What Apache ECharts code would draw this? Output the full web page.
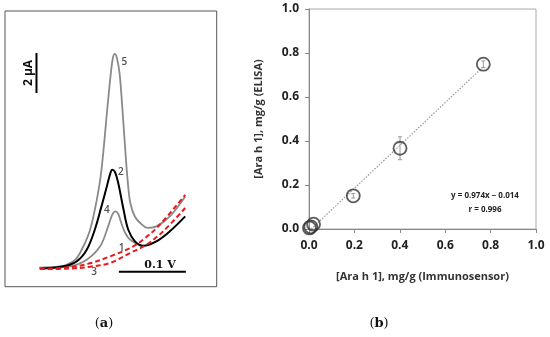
<!DOCTYPE html>
<html><head><meta charset="utf-8">
<script src="https://cdn.jsdelivr.net/npm/echarts@6/dist/echarts.min.js"></script>
<style>html,body{margin:0;padding:0;background:#fff}#c{width:550px;height:337px}</style>
</head><body><div id="c"></div>
<script>
// Panel (a): voltammograms, potential (V) vs current (µA)
const curve5 = [[0.001,0],[0.030,0.05],[0.042,0.15],[0.055,0.4],[0.066,1.0],[0.077,1.9],[0.087,3.4],[0.094,4.9],[0.103,8.07],[0.108,9.74],[0.111,10.5],[0.114,10.7],[0.117,10.5],[0.121,9.74],[0.125,8.07],[0.129,6.15],[0.133,4.4],[0.137,3.25],[0.144,2.55],[0.153,2.2],[0.163,1.99],[0.176,2.07],[0.196,2.57],[0.219,3.57]];
const curve2 = [[0.002,-0.05],[0.037,0.07],[0.057,0.32],[0.072,0.9],[0.084,1.9],[0.094,3.07],[0.102,4.07],[0.107,4.7],[0.110,4.9],[0.114,4.8],[0.119,4.24],[0.127,2.9],[0.134,1.9],[0.144,1.32],[0.156,1.1],[0.176,1.32],[0.196,1.82],[0.219,2.57]];
const curve4 = [[0.002,-0.02],[0.047,0.07],[0.072,0.4],[0.092,1.07],[0.104,2.07],[0.110,2.65],[0.115,2.82],[0.119,2.7],[0.124,2.2],[0.130,1.7],[0.137,1.4],[0.151,1.12],[0.158,1.08]];
const curve1 = [[0.002,-0.07],[0.047,0.03],[0.077,0.22],[0.107,0.57],[0.137,0.99],[0.156,1.4],[0.181,2.15],[0.219,3.65]];
const curve3 = [[0.002,-0.07],[0.047,-0.04],[0.077,0.05],[0.107,0.24],[0.137,0.74],[0.161,1.15],[0.186,1.82],[0.219,2.99]];
const curveLabels = [["5",0.128,10.3],["2",0.123,4.8],["4",0.102,2.9],["1",0.124,0.99],["3",0.083,-0.24]];
const vBar = [[0.12,-0.2],[0.22,-0.2]];      // 0.1 V scale bar
const iBar = [[-0.003,8.75],[-0.003,10.75]]; // 2 µA scale bar

// Panel (b): immunosensor vs ELISA
const sensorX = [0.002,0.008,0.02,0.195,0.401,0.768];
const elisaY  = [0.005,0.01,0.022,0.151,0.367,0.749];
const elisaErr= [0,0,0,0.01,0.052,0.015];
const fitLine = [[0.01,0.0],[0.765,0.735]];

const chart = echarts.init(document.getElementById('c'));
const boldSans = '"Open Sans", "Liberation Sans", sans-serif';
function lineS(data, color, width, type, z){
  return {type:'line', xAxisIndex:0, yAxisIndex:0, data:data, smooth:0.35, showSymbol:false, symbol:'none',
    lineStyle:{color:color, width:width, type:type}, z:z, silent:true};
}
chart.setOption({
  animation:false,
  grid:[
    {left:5, top:11, right:333.3, bottom:50.3, show:true, borderColor:'#555', borderWidth:1, backgroundColor:'transparent'},
    {left:309, top:9, right:14, bottom:108, show:true, borderColor:'#aaa', borderWidth:1}
  ],
  xAxis:[
    {gridIndex:0, type:'value', min:-0.05, max:0.266, show:false},
    {gridIndex:1, type:'value', min:0, max:1, interval:0.2,
      name:'[Ara h 1], mg/g (Immunosensor)', nameLocation:'middle', nameGap:42,
      nameTextStyle:{fontFamily:boldSans, fontWeight:'bold', fontSize:11, color:'#333'},
      axisLine:{show:true, lineStyle:{color:'#888', width:1}},
      axisTick:{show:true, inside:false, length:4, lineStyle:{color:'#888'}},
      splitLine:{show:false},
      axisLabel:{fontFamily:boldSans, fontWeight:'bold', fontSize:12, color:'#222', margin:11, formatter:v=>v.toFixed(1)}}
  ],
  yAxis:[
    {gridIndex:0, type:'value', min:-0.95, max:12.85, show:false},
    {gridIndex:1, type:'value', min:0, max:1, interval:0.2,
      name:'[Ara h 1], mg/g (ELISA)', nameLocation:'middle', nameGap:45,
      nameTextStyle:{fontFamily:boldSans, fontWeight:'bold', fontSize:11, color:'#333'},
      axisLine:{show:true, lineStyle:{color:'#888', width:1}},
      axisTick:{show:true, inside:false, length:4, lineStyle:{color:'#888'}},
      splitLine:{show:false},
      axisLabel:{fontFamily:boldSans, fontWeight:'bold', fontSize:12, color:'#222', margin:10, formatter:v=>v.toFixed(1)}}
  ],
  series:[
    lineS(curve4, '#8a8a8a', 1.8, 'solid', 2),
    lineS(curve5, '#8a8a8a', 1.8, 'solid', 2),
    lineS(curve2, '#000', 2, 'solid', 3),
    lineS(curve1, '#e8191c', 2, [5,3], 4),
    lineS(curve3, '#e8191c', 2, [5,3], 4),
    {type:'line', xAxisIndex:0, yAxisIndex:0, data:vBar, showSymbol:false, symbol:'none', lineStyle:{color:'#000', width:2}, silent:true},
    {type:'line', xAxisIndex:0, yAxisIndex:0, data:iBar, showSymbol:false, symbol:'none', lineStyle:{color:'#000', width:2}, silent:true},
    {type:'scatter', xAxisIndex:0, yAxisIndex:0, symbolSize:0, silent:true,
      data:curveLabels.map(d=>({value:[d[1],d[2]], name:d[0]})),
      label:{show:true, position:'inside', formatter:p=>p.name, fontFamily:'"Open Sans", sans-serif', fontSize:10, fontWeight:600, color:'#222'}},
    // panel b
    {type:'line', xAxisIndex:1, yAxisIndex:1, data:fitLine, showSymbol:false, symbol:'none',
      lineStyle:{color:'#999', width:1.2, type:[1.5,1.5]}, silent:true, z:1},
    {type:'custom', xAxisIndex:1, yAxisIndex:1, silent:true, z:2,
      data:sensorX.map((x,i)=>[x, elisaY[i]-elisaErr[i], elisaY[i]+elisaErr[i]]),
      renderItem:function(params, api){
        const lo = api.coord([api.value(0), api.value(1)]);
        const hi = api.coord([api.value(0), api.value(2)]);
        if (Math.abs(hi[1]-lo[1]) < 0.5) return {type:'group', children:[]};
        const st = {stroke:'#999', lineWidth:1};
        return {type:'group', children:[
          {type:'line', shape:{x1:lo[0], y1:lo[1], x2:hi[0], y2:hi[1]}, style:st},
          {type:'line', shape:{x1:lo[0]-2, y1:lo[1], x2:lo[0]+2, y2:lo[1]}, style:st},
          {type:'line', shape:{x1:hi[0]-2, y1:hi[1], x2:hi[0]+2, y2:hi[1]}, style:st}
        ]};
      }},
    {type:'scatter', xAxisIndex:1, yAxisIndex:1, symbol:'circle', symbolSize:13, z:3, silent:true,
      data:sensorX.map((x,i)=>[x, elisaY[i]]),
      itemStyle:{color:'rgba(255,255,255,0)', borderColor:'#333', borderWidth:1.8}}
  ],
  graphic:[
    {type:'text', x:29, y:73, rotation:Math.PI/2, style:{text:'2 μA', font:'bold 12px "Open Sans", sans-serif', fill:'#111', align:'center', verticalAlign:'middle'}},
    {type:'text', x:160, y:265, style:{text:'0.1 V', font:'bold 11px "DejaVu Serif", serif', fill:'#111', align:'center', verticalAlign:'middle'}},
    {type:'text', x:485, y:196, style:{text:'y = 0.974x \u2212 0.014', font:'bold 8px "Open Sans", sans-serif', fill:'#222', align:'center', verticalAlign:'middle'}},
    {type:'text', x:485, y:210, style:{text:'r = 0.996', font:'bold 8px "Open Sans", sans-serif', fill:'#222', align:'center', verticalAlign:'middle'}},
    {type:'text', x:104, y:324, style:{rich:{p:{font:'13px "DejaVu Serif", serif', fill:'#111'}, b:{font:'bold 13px "DejaVu Serif", serif', fill:'#111'}}, text:'{p|(}{b|a}{p|)}', align:'center', verticalAlign:'middle'}},
    {type:'text', x:379, y:324, style:{rich:{p:{font:'13px "DejaVu Serif", serif', fill:'#111'}, b:{font:'bold 13px "DejaVu Serif", serif', fill:'#111'}}, text:'{p|(}{b|b}{p|)}', align:'center', verticalAlign:'middle'}}
  ]
});
</script></body></html>
